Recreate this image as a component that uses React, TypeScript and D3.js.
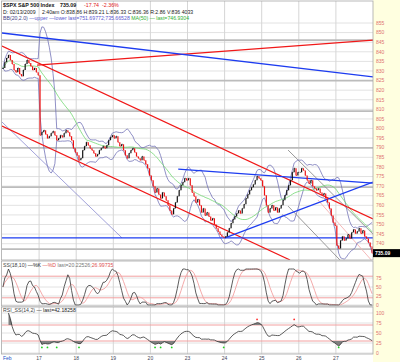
import React, { useEffect, useRef } from "react";
import * as d3 from "d3";

const theme = {
  background: "#ffffff",
  axisStrip: "#ffffe0",
  border: "#a8a8a8",
  grid: "#e2e2e2",
  dayGrid: "#d6d6d6",
  level: "#bcbcbc",
  up: "#111111",
  down: "#ee1111",
  bb: "#7474b8",
  ma: "#72d872",
  blue: "#1d3cf0",
  red: "#f01818",
  gray: "#808080",
  pink: "#f4b0b0",
  lavender: "#8c8cd0",
  tickLabel: "#e07070",
  zone: "#f2a0a0",
  fill: "#808080",
  fontFamily: "'Liberation Sans', Arial, sans-serif"
};

// session labels (one per trading day)
const sessions = ["Feb", "17", "18", "19", "20", "23", "24", "25", "26", "27"];

// closes, 20 bars per session
const feb13 = [831.5, 834.6, 836.7, 838.3, 835.7, 833.6, 830.5, 829.4, 831.5, 828.4, 827.3, 830.5, 833.6, 835.7, 834.1, 832.5, 830.5, 831.5, 829.4, 827.8];
const feb17 = [796.5, 798.1, 799.1, 797.0, 794.9, 796.0, 797.6, 798.6, 796.5, 793.9, 794.9, 796.5, 795.5, 797.6, 799.1, 798.1, 796.0, 793.9, 789.7, 787.6];
const feb18 = [786.1, 783.5, 784.5, 788.7, 790.8, 792.9, 791.3, 789.7, 788.7, 787.1, 785.5, 786.6, 788.7, 789.7, 790.8, 789.7, 791.3, 793.9, 795.5, 796.5];
const feb19 = [794.9, 796.0, 792.9, 790.8, 791.8, 788.7, 786.1, 784.5, 787.1, 788.7, 789.7, 787.6, 785.5, 784.5, 783.5, 785.5, 783.5, 781.4, 779.3, 775.6];
const feb20 = [773.0, 769.9, 766.7, 768.8, 765.7, 763.6, 766.7, 764.7, 762.6, 760.0, 757.3, 755.3, 758.4, 761.5, 764.7, 767.8, 770.4, 772.0, 774.1, 773.0];
const feb23 = [774.1, 770.4, 766.7, 764.7, 761.5, 763.1, 760.0, 756.3, 758.4, 754.7, 756.3, 754.2, 752.1, 753.2, 750.0, 748.0, 746.4, 744.8, 743.8, 743.2];
const feb24 = [743.8, 745.9, 748.0, 750.6, 752.6, 754.2, 755.8, 757.3, 755.8, 758.4, 760.5, 763.6, 765.7, 767.8, 769.4, 770.9, 773.0, 775.1, 774.1, 773.0];
const feb25 = [769.9, 765.2, 760.0, 756.3, 758.4, 760.0, 757.3, 758.9, 756.3, 758.4, 760.0, 762.6, 765.2, 767.8, 770.4, 773.0, 777.2, 779.3, 775.6, 777.2];
const feb26 = [777.2, 779.3, 778.2, 775.6, 773.0, 771.4, 773.0, 769.9, 768.8, 767.8, 768.8, 766.7, 765.2, 766.2, 763.6, 761.5, 758.4, 754.7, 751.1, 749.5];
const feb27 = [739.1, 737.5, 741.7, 743.8, 741.7, 742.7, 744.8, 742.7, 745.9, 747.4, 745.3, 746.4, 748.0, 745.3, 746.9, 743.8, 742.7, 740.6, 738.5, 735.09];

const closes = [...feb13, ...feb17, ...feb18, ...feb19, ...feb20, ...feb23, ...feb24, ...feb25, ...feb26, ...feb27];
const barsPerSession = 20;

const priceTicks = [740, 745, 750, 755, 760, 765, 770, 775, 780, 785, 790, 795, 800, 805, 810, 815, 820, 825, 830, 835, 840, 845, 850, 855];
const ssTicks = [0, 25, 50, 75];
const rsiTicks = [0, 25, 50, 75, 100];
const ssZones = [20, 80];
const rsiZones = [30, 70];

// annotation lines: [bar, price, bar, price]
const blueLines = [
  [0, 849.8, 200, 826.9],
  [0, 743.0, 200, 743.0],
  [95, 778.9, 200, 771.6],
  [120.2, 743.0, 200, 772.1]
];
const redLines = [
  [0, 843.0, 200, 752.9],
  [0, 801.3, 155.3, 731.5],
  [18.9, 833.1, 200, 846.1]
];
const grayLines = [
  [154.2, 788.8, 200, 745.0],
  [154.2, 759.6, 182.2, 731.5]
];
const pinkLines = [[170.3, 762.8, 200, 730.5]];
const lavenderLines = [[0, 803.4, 64.7, 743.0]];
const grayLevels = [846.1, 825.0, 809.1, 789.9, 769.5, 737.2];

const bollinger = (c: number[], n: number, k: number) =>
  c.map((_, i) => {
    const w = c.slice(Math.max(0, i - n + 1), i + 1);
    const m = d3.mean(w) as number;
    const sd = Math.sqrt(d3.mean(w, (v) => (v - m) ** 2) as number);
    return { up: m + k * sd, lo: m - k * sd };
  });

const sma = (c: number[], n: number) =>
  c.map((_, i) => d3.mean(c.slice(Math.max(0, i - n + 1), i + 1)) as number);

const stochRaw = (c: number[], n: number) =>
  c.map((v, i) => {
    const w = c.slice(Math.max(0, i - n + 1), i + 1);
    const hh = d3.max(w) as number;
    const ll = d3.min(w) as number;
    return hh === ll ? 50 : ((v - ll) / (hh - ll)) * 100;
  });

const rsiCalc = (c: number[], n: number) => {
  const out: number[] = [50];
  let ag = 0;
  let al = 0;
  for (let i = 1; i < c.length; i++) {
    const ch = c[i] - c[i - 1];
    const k = Math.min(i, n);
    ag = (ag * (k - 1) + Math.max(ch, 0)) / k;
    al = (al * (k - 1) + Math.max(-ch, 0)) / k;
    out.push(al === 0 ? 100 : 100 - 100 / (1 + ag / al));
  }
  return out;
};

export default function App() {
  const svgRef = useRef<SVGSVGElement>(null);

  useEffect(() => {
    const svg = d3.select(svgRef.current);
    svg.selectAll("*").remove();

    const width = 400;
    const height = 362;
    const plotL = 2;
    const plotR = 373;
    const mainP = { top: 1, bottom: 260 };
    const ssP = { top: 261, bottom: 306 };
    const rsiP = { top: 307, bottom: 354 };
    const N = closes.length;

    const x = d3.scaleLinear().domain([0, N]).range([plotL, plotR]);
    const xc = (i: number) => x(i + 0.5);
    const y = d3.scaleLinear().domain([735, 855]).range([253.3, 23]);
    const ySS = d3.scaleLinear().domain([0, 100]).range([305, 269]);
    const yRSI = d3.scaleLinear().domain([0, 100]).range([353, 313]);

    svg.append("rect").attr("width", width).attr("height", height).attr("fill", theme.background);
    svg.append("rect").attr("x", plotR).attr("width", width - plotR).attr("height", height).attr("fill", theme.axisStrip);

    const defs = svg.append("defs");
    [["clip-main", mainP], ["clip-ss", ssP], ["clip-rsi", rsiP]].forEach(([id, p]: any) => {
      defs.append("clipPath").attr("id", id).append("rect")
        .attr("x", plotL).attr("y", p.top).attr("width", plotR - plotL).attr("height", p.bottom - p.top);
    });

    const dayBounds = d3.range(1, sessions.length).map((d) => d * barsPerSession);

    // ---- main price panel ----
    const g = svg.append("g").attr("clip-path", "url(#clip-main)");
    g.selectAll(".hgrid").data(priceTicks).enter().append("line")
      .attr("x1", plotL).attr("x2", plotR).attr("y1", (d) => y(d)).attr("y2", (d) => y(d))
      .attr("stroke", theme.grid).attr("stroke-width", 1);
    g.selectAll(".vgrid").data(dayBounds).enter().append("line")
      .attr("x1", (d) => x(d)).attr("x2", (d) => x(d)).attr("y1", mainP.top).attr("y2", mainP.bottom)
      .attr("stroke", theme.dayGrid).attr("stroke-width", 1);
    g.selectAll(".level").data(grayLevels).enter().append("line")
      .attr("x1", plotL).attr("x2", plotR).attr("y1", (d) => y(d)).attr("y2", (d) => y(d))
      .attr("stroke", theme.level).attr("stroke-width", 1.8);

    const drawSegs = (data: number[][], color: string, w: number) => {
      g.append("g").selectAll("line").data(data).enter().append("line")
        .attr("x1", (d) => x(d[0])).attr("y1", (d) => y(d[1]))
        .attr("x2", (d) => x(d[2])).attr("y2", (d) => y(d[3]))
        .attr("stroke", color).attr("stroke-width", w);
    };
    drawSegs(lavenderLines, theme.lavender, 0.8);
    drawSegs(pinkLines, theme.pink, 0.9);
    drawSegs(grayLines, theme.gray, 0.8);

    const bb = bollinger(closes, 10, 2);
    const ma = sma(closes, 26);
    const line = d3.line<number>().x((_, i) => xc(i)).y((d) => y(d));
    g.append("path").attr("d", line(bb.map((b) => b.up))).attr("fill", "none").attr("stroke", theme.bb).attr("stroke-width", 0.8);
    g.append("path").attr("d", line(bb.map((b) => b.lo))).attr("fill", "none").attr("stroke", theme.bb).attr("stroke-width", 0.8);
    g.append("path").attr("d", line(ma)).attr("fill", "none").attr("stroke", theme.ma).attr("stroke-width", 0.8);

    drawSegs(redLines, theme.red, 1.2);
    drawSegs(blueLines, theme.blue, 1.3);

    // price bars: previous close -> close, red when falling
    const bars = g.append("g");
    closes.forEach((c, i) => {
      const prev = i > 0 ? closes[i - 1] : c;
      const col = c < prev ? theme.down : theme.up;
      bars.append("line")
        .attr("x1", xc(i)).attr("x2", xc(i))
        .attr("y1", y(prev)).attr("y2", y(c) + (i === 0 ? 1 : 0))
        .attr("stroke", col).attr("stroke-width", 1.2);
      bars.append("line")
        .attr("x1", xc(i)).attr("x2", xc(i) + 1).attr("y1", y(c)).attr("y2", y(c))
        .attr("stroke", col).attr("stroke-width", 0.8);
    });

    // ---- slow stochastic panel ----
    const gs = svg.append("g").attr("clip-path", "url(#clip-ss)");
    gs.selectAll(".hgrid").data(ssTicks).enter().append("line")
      .attr("x1", plotL).attr("x2", plotR).attr("y1", (d) => ySS(d)).attr("y2", (d) => ySS(d))
      .attr("stroke", theme.grid);
    gs.selectAll(".vgrid").data(dayBounds).enter().append("line")
      .attr("x1", (d) => x(d)).attr("x2", (d) => x(d)).attr("y1", ssP.top).attr("y2", ssP.bottom)
      .attr("stroke", theme.dayGrid);
    gs.selectAll(".zone").data(ssZones).enter().append("line")
      .attr("x1", plotL).attr("x2", plotR).attr("y1", (d) => ySS(d)).attr("y2", (d) => ySS(d))
      .attr("stroke", theme.zone).attr("stroke-width", 1);
    const pctK = sma(stochRaw(closes, 12), 3);
    const pctD = sma(pctK, 6);
    const sLine = d3.line<number>().x((_, i) => xc(i)).y((d) => ySS(d));
    gs.append("path").attr("d", sLine(pctD)).attr("fill", "none").attr("stroke", theme.zone).attr("stroke-width", 0.9);
    gs.append("path").attr("d", sLine(pctK)).attr("fill", "none").attr("stroke", "#333").attr("stroke-width", 0.8);

    // ---- RSI panel ----
    const gr = svg.append("g").attr("clip-path", "url(#clip-rsi)");
    gr.selectAll(".hgrid").data(rsiTicks).enter().append("line")
      .attr("x1", plotL).attr("x2", plotR).attr("y1", (d) => yRSI(d)).attr("y2", (d) => yRSI(d))
      .attr("stroke", theme.grid);
    gr.selectAll(".vgrid").data(dayBounds).enter().append("line")
      .attr("x1", (d) => x(d)).attr("x2", (d) => x(d)).attr("y1", rsiP.top).attr("y2", rsiP.bottom)
      .attr("stroke", theme.dayGrid);
    gr.selectAll(".zone").data(rsiZones).enter().append("line")
      .attr("x1", plotL).attr("x2", plotR).attr("y1", (d) => yRSI(d)).attr("y2", (d) => yRSI(d))
      .attr("stroke", theme.zone).attr("stroke-width", 1);
    const rsi = sma(rsiCalc(closes, 14), 2);
    const pts = rsi.map((v, i) => ({ i, v })).filter((d) => d.i >= 3);
    gr.append("path")
      .attr("d", d3.area<{ i: number; v: number }>().x((d) => xc(d.i)).y0(yRSI(30)).y1((d) => yRSI(Math.min(d.v, 30)))(pts))
      .attr("fill", theme.fill);
    gr.append("path")
      .attr("d", d3.area<{ i: number; v: number }>().x((d) => xc(d.i)).y0(yRSI(70)).y1((d) => yRSI(Math.max(d.v, 70)))(pts))
      .attr("fill", theme.fill);
    gr.append("path")
      .attr("d", d3.line<{ i: number; v: number }>().x((d) => xc(d.i)).y((d) => yRSI(d.v))(pts))
      .attr("fill", "none").attr("stroke", "#333").attr("stroke-width", 0.8);
    const ob = pts.filter((d, k) => k > 0 && k < pts.length - 1 && d.v > 68 && d.v >= pts[k - 1].v && d.v >= pts[k + 1].v);
    const os = pts.filter((d, k) => k > 0 && k < pts.length - 1 && d.v < 32 && d.v <= pts[k - 1].v && d.v <= pts[k + 1].v);
    gr.selectAll(".ob").data(ob).enter().append("circle")
      .attr("cx", (d) => xc(d.i)).attr("cy", yRSI(84)).attr("r", 0.9).attr("fill", "#ff3030");
    gr.selectAll(".os").data(os).enter().append("circle")
      .attr("cx", (d) => xc(d.i)).attr("cy", yRSI(14)).attr("r", 0.9).attr("fill", "#20d020");

    // ---- panel frames ----
    [mainP, ssP, rsiP].forEach((p) => {
      svg.append("rect").attr("x", plotL - 0.5).attr("y", p.top).attr("width", plotR - plotL + 0.5).attr("height", p.bottom - p.top)
        .attr("fill", "none").attr("stroke", theme.border).attr("stroke-width", 0.8);
    });

    // ---- axis labels ----
    const txt = (sel: any, size: number) =>
      sel.style("font-family", theme.fontFamily).style("font-size", `${size}px`);

    txt(svg.append("g").selectAll("text").data(priceTicks).enter().append("text")
      .attr("x", plotR + 3).attr("y", (d: number) => y(d)).attr("dy", "0.35em")
      .attr("fill", theme.tickLabel).text((d: number) => d), 5);
    txt(svg.append("g").selectAll("text").data(ssTicks).enter().append("text")
      .attr("x", plotR + 3).attr("y", (d: number) => ySS(d)).attr("dy", "0.35em")
      .attr("fill", theme.tickLabel).text((d: number) => d), 5);
    txt(svg.append("g").selectAll("text").data(rsiTicks).enter().append("text")
      .attr("x", plotR + 3).attr("y", (d: number) => yRSI(d)).attr("dy", "0.35em")
      .attr("fill", theme.tickLabel).text((d: number) => d), 5);

    const last = closes[N - 1];
    svg.append("rect").attr("x", plotR).attr("y", y(last) - 4).attr("width", width - plotR).attr("height", 8).attr("fill", "#000");
    txt(svg.append("text").attr("x", plotR + 2).attr("y", y(last)).attr("dy", "0.35em")
      .attr("fill", "#fff").attr("font-weight", "bold").text(last.toFixed(2)), 5);

    txt(svg.append("g").selectAll("text").data(sessions).enter().append("text")
      .attr("x", (_: string, i: number) => (i === 0 ? plotL + 1 : x(i * barsPerSession)))
      .attr("y", 360)
      .attr("text-anchor", (_: string, i: number) => (i === 0 ? "start" : "middle"))
      .attr("fill", (_: string, i: number) => (i === 0 ? "#2050c8" : "#445")).text((d: string) => d), 5);

    // ---- headers ----
    const h1 = txt(svg.append("text").attr("x", 3).attr("y", 7), 5.3);
    h1.append("tspan").attr("font-weight", "bold").attr("fill", "#111").text("$SPX S&P 500 Index");
    h1.append("tspan").attr("x", 60).attr("font-weight", "bold").attr("fill", "#111").text("735.09");
    h1.append("tspan").attr("x", 84).attr("fill", "#e02020").text("-17.74");
    h1.append("tspan").attr("x", 102).attr("fill", "#e02020").text("-2.36%");

    const h2 = txt(svg.append("text").attr("x", 3).attr("y", 14), 5.2);
    h2.append("tspan").attr("fill", "#222").text("D: 02/13/2009");
    h2.append("tspan").attr("x", 42).attr("fill", "#222").text("2:40am O:838.86 H:839.21 L:836.33 C:836.36 R:2.86 V:836 4033");

    const h3 = txt(svg.append("text").attr("x", 3).attr("y", 20), 5.2);
    h3.append("tspan").attr("fill", "#444488").text("BB(20,2.0)");
    h3.append("tspan").attr("fill", "#5a5ad0").text(" \u2014upper \u2014lower last=751.69772;735.66528 ");
    h3.append("tspan").attr("fill", "#30b030").text("MA(50) \u2014 last=746.9304");

    const s1 = txt(svg.append("text").attr("x", 3).attr("y", 267), 5.2);
    s1.append("tspan").attr("fill", "#444").text("SS(18,10) ");
    s1.append("tspan").attr("fill", "#222").text("\u2014%K ");
    s1.append("tspan").attr("fill", "#e05050").text("\u2014%D ");
    s1.append("tspan").attr("fill", "#777").text("last=20.22526;");
    s1.append("tspan").attr("fill", "#e05050").text("26.99735");

    const r1 = txt(svg.append("text").attr("x", 3).attr("y", 312), 5.2);
    r1.append("tspan").attr("fill", "#444").text("RSI_SS(14,2) ");
    r1.append("tspan").attr("fill", "#222").text("\u2014 last=42.18258");
  }, []);

  return <svg ref={svgRef} width={400} height={362} style={{ position: "absolute", left: 0, top: 0 }} />;
}
